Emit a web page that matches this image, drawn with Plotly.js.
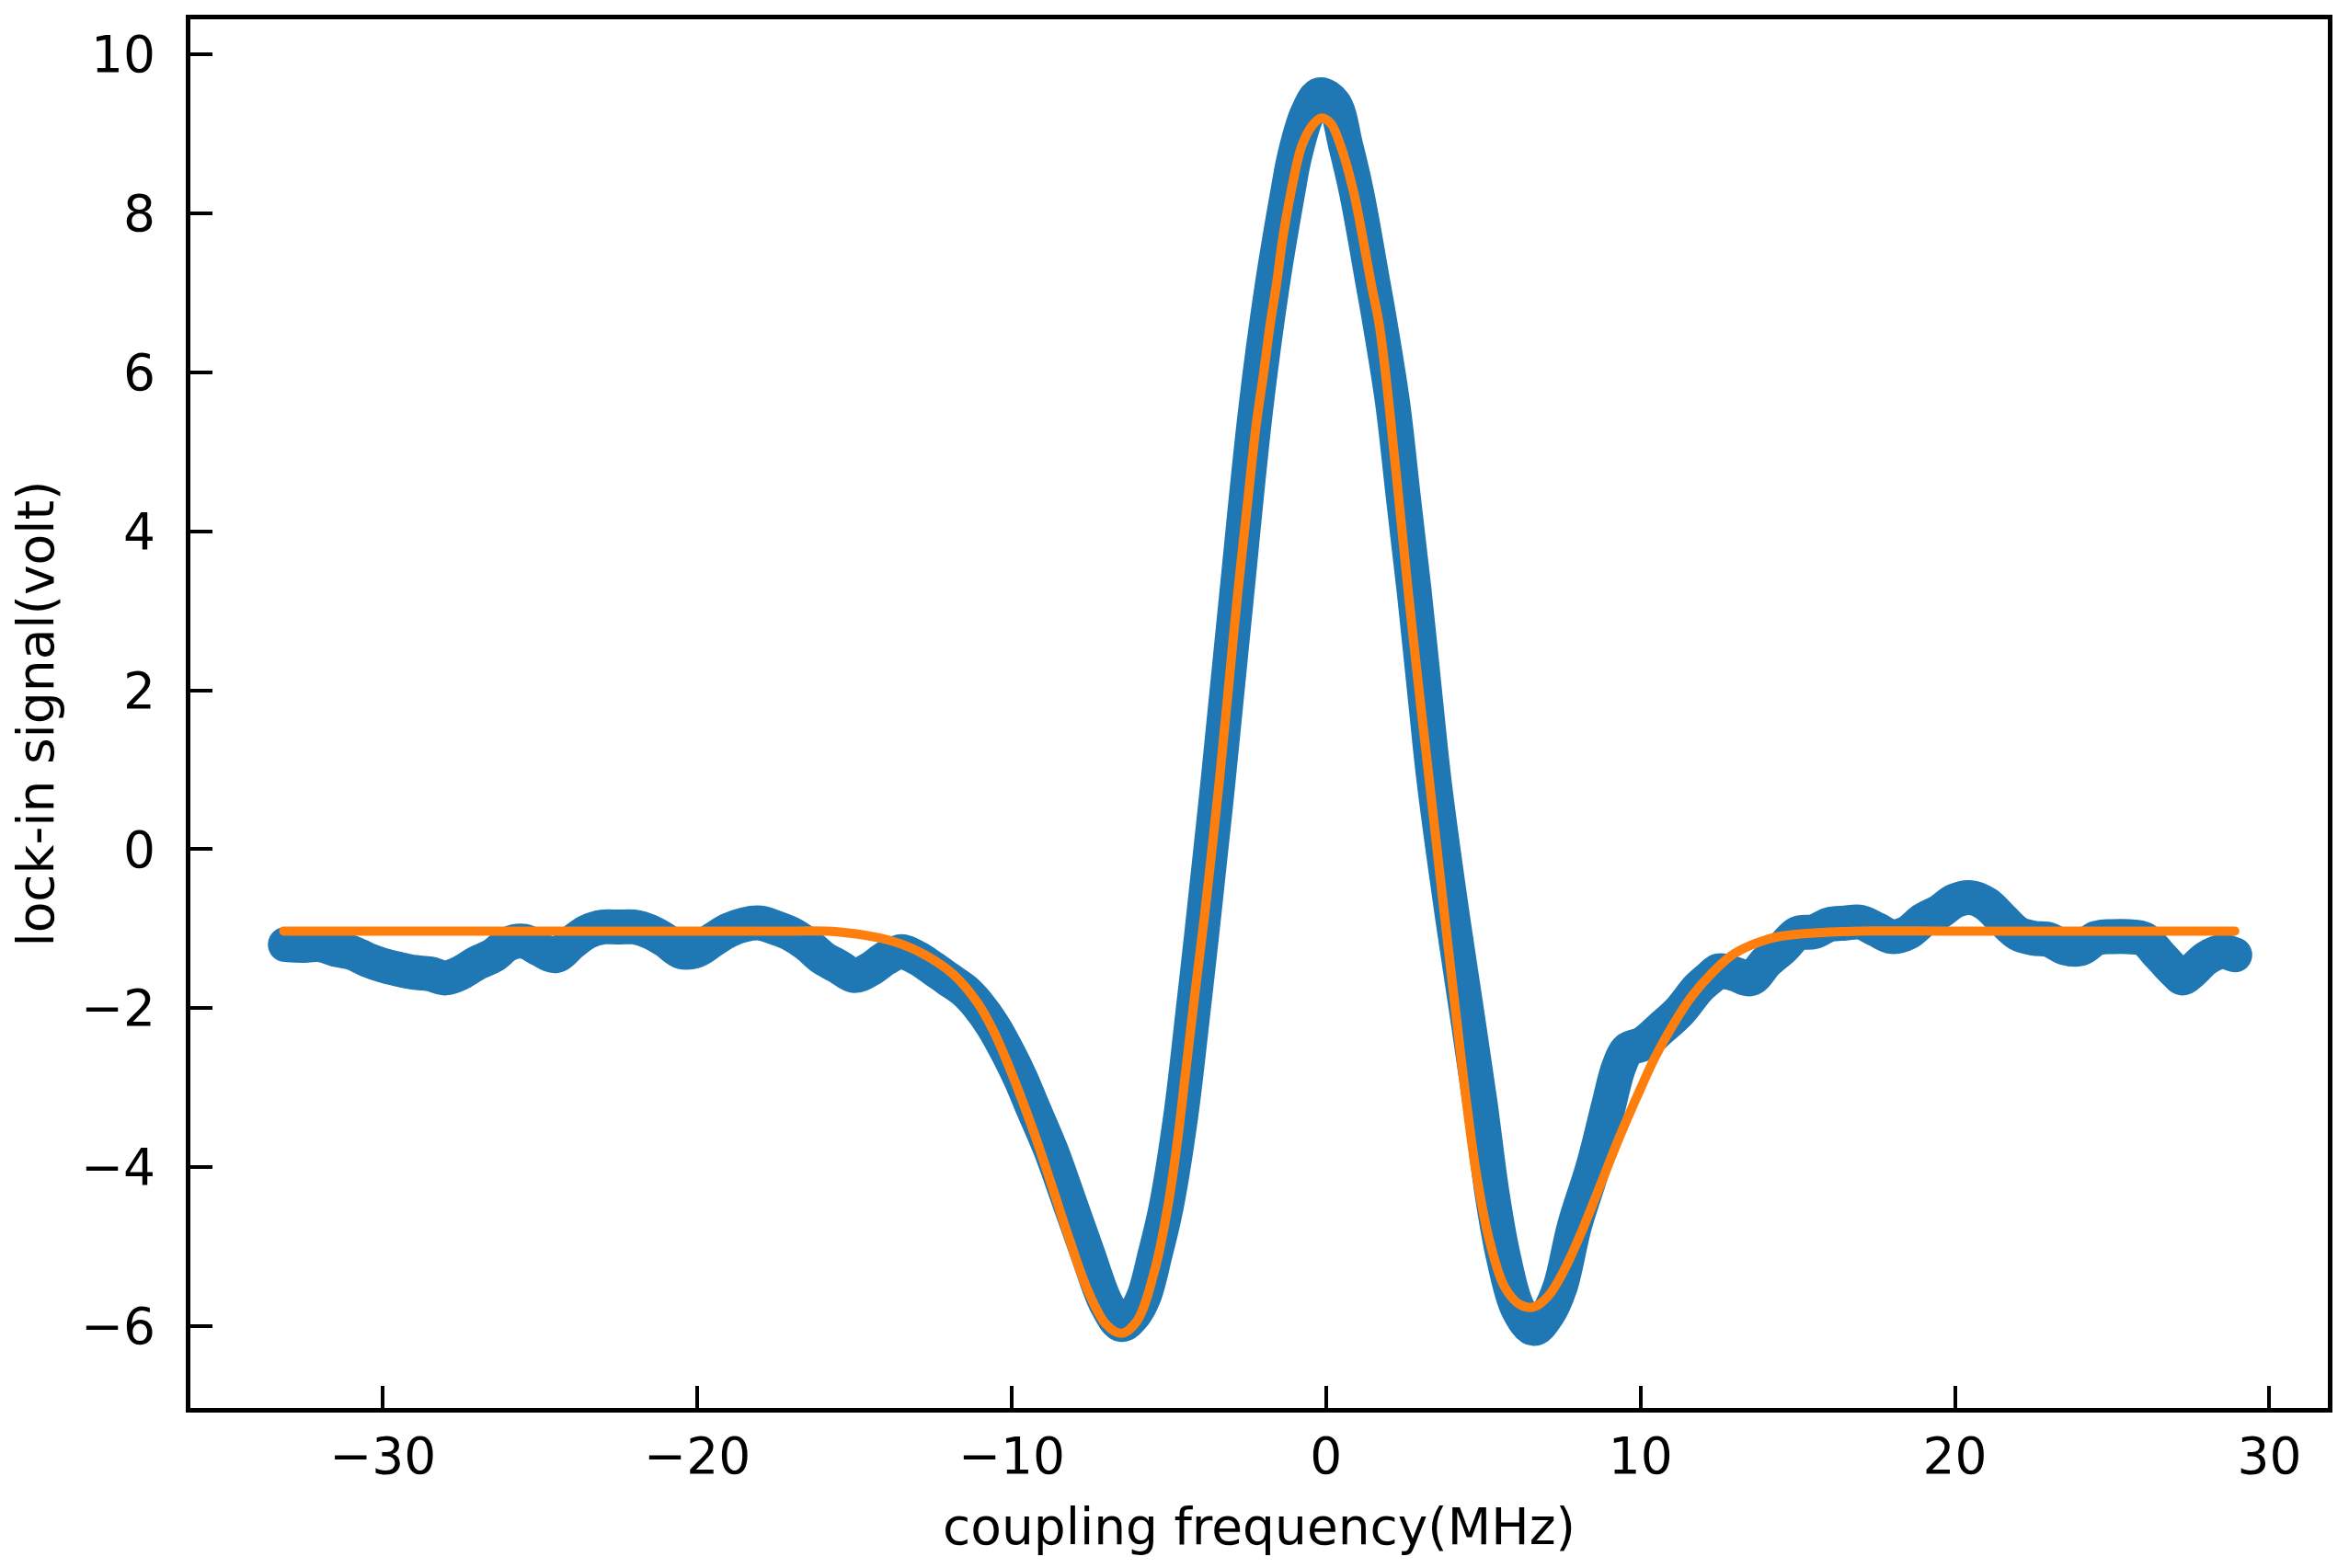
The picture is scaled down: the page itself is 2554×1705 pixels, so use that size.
<!DOCTYPE html>
<html>
<head>
<meta charset="utf-8">
<script src="https://cdn.plot.ly/plotly-3.0.1.min.js"></script>
<style>
  html, body { margin: 0; padding: 0; background: #ffffff; }
  #chart { width: 2554px; height: 1705px; }
  .js-line { stroke-linejoin: round; stroke-linecap: round; }
</style>
</head>
<body>
<div id="chart"></div>
<script>
const measuredFreq = [
  -33.1, -32.5, -32, -31.5, -31, -30.5, -30, -29.5, -29, -28.5, -28, -27.5, -27, -26.5, -26, -25.5,
  -25, -24.5, -24, -23.5, -23, -22.5, -22, -21.5, -21, -20.5, -20, -19.5, -19, -18.5, -18, -17.5,
  -17, -16.5, -16, -15.5, -15, -14.5, -14, -13.5, -13, -12.5, -12,
  -11.5, -11.09, -10.6, -10.12, -9.7, -9.34, -8.75, -8.17, -7.58, -6.99, -6.51, -6.1, -5.79, -5.44,
  -5.09, -4.62, -4.22, -3.95,
  -3.44, -2.85, -2.24, -1.71, -1.22, -1.0, -0.6, -0.2, 0.25, 0.63, 0.97, 1.5, 1.7, 2.12, 2.45, 2.8, 3.17, 3.44,
  4.03, 4.47, 4.9, 5.29, 5.64, 6.1, 6.61, 7.05, 7.44, 7.9, 8.51, 9.0, 9.3, 9.6, 10.07, 10.66, 11.24,
  11.83, 12.2, 12.5, 13, 13.5, 14, 14.5, 15, 15.5, 16, 16.5, 17, 17.5, 18, 18.5, 19, 19.5, 20, 20.5,
  21, 21.5, 22, 22.5, 23, 23.5, 24, 24.5, 25, 25.5, 26, 26.5, 27, 27.25, 27.5, 28, 28.5, 28.9
];
const measuredSignal = [
  -1.20, -1.21, -1.20, -1.26, -1.30, -1.39, -1.46, -1.51, -1.55, -1.57, -1.62, -1.55, -1.43, -1.34, -1.19, -1.16,
  -1.26, -1.34, -1.18, -1.04, -0.98, -0.98, -0.98, -1.04, -1.15, -1.29, -1.27, -1.14, -1.02, -0.95, -0.93, -0.99,
  -1.07, -1.20, -1.37, -1.48, -1.59, -1.51, -1.37, -1.29, -1.37, -1.50, -1.64,
  -1.78, -1.95, -2.22, -2.56, -2.90, -3.24, -3.79, -4.43, -5.09, -5.72, -5.98, -5.85, -5.62, -5.10,
  -4.51, -3.35, -2.00, -1.05,
  0.84, 3.18, 5.53, 7.10, 8.26, 8.72, 9.25, 9.49, 9.38, 8.84, 8.26, 7.10, 6.65, 5.60, 4.45, 3.25, 1.84, 0.84,
  -0.88, -2.04, -3.20, -4.36, -5.13, -5.78, -6.03, -5.85, -5.51, -4.74, -3.97, -3.20, -2.75, -2.52, -2.45, -2.25, -2.04,
  -1.75, -1.62, -1.53, -1.57, -1.63, -1.42, -1.25, -1.06, -1.04, -0.95, -0.93, -0.92, -1.01, -1.10, -1.05, -0.89, -0.79, -0.65, -0.61,
  -0.69, -0.88, -1.06, -1.12, -1.14, -1.24, -1.25, -1.12, -1.10, -1.10, -1.13, -1.33, -1.54, -1.62, -1.55, -1.37, -1.29, -1.33
];

// Fitted curve (orange)
const fitFreq = [
  -33.15, -25, -20, -17, -15.54, -13.86, -12.85, -11.84, -11.09, -10.6, -10.12, -9.34, -8.75, -8.17,
  -7.58, -6.99, -6.51, -6.02, -5.44, -5.04, -4.75, -4.46, -4.17, -3.87, -3.39, -3.1, -2.82, -2.5,
  -2.22, -2.0, -1.78, -1.58, -1.38, -1.12, -0.78, -0.45, -0.15, 0.15, 0.47, 0.88, 1.17, 1.44, 1.69,
  2.0, 2.3, 2.61, 3.0, 3.29, 3.78, 4.12, 4.47, 4.81, 5.2, 5.68, 6.17, 6.61, 7.05, 7.54, 8.12, 8.71,
  9.29, 9.88, 10.46, 11.05, 11.63, 12.22, 13.0, 14.17, 15.29, 17, 20, 28.9
];
const fitSignal = [
  -1.03, -1.03, -1.03, -1.03, -1.04, -1.15, -1.31, -1.58, -1.93, -2.27, -2.70, -3.51, -4.20, -4.90,
  -5.55, -5.98, -6.09, -5.94, -5.28, -4.51, -3.74, -2.78, -1.81, -0.85, 0.88, 2.05, 3.18, 4.35,
  5.35, 5.95, 6.60, 7.10, 7.68, 8.26, 8.84, 9.10, 9.20, 9.13, 8.84, 8.26, 7.68, 7.10, 6.60,
  5.60, 4.45, 3.25, 1.84, 0.84, -0.88, -2.04, -3.20, -4.16, -4.93, -5.51, -5.73, -5.76, -5.63, -5.32, -4.82, -4.24,
  -3.66, -3.12, -2.62, -2.20, -1.85, -1.58, -1.31, -1.12, -1.06, -1.03, -1.03, -1.03
];

// Tick values and labels
const xTickVals = [-30, -20, -10, 0, 10, 20, 30];
const xTickText = ['\u221230', '\u221220', '\u221210', '0', '10', '20', '30'];
const yTickVals = [-6, -4, -2, 0, 2, 4, 6, 8, 10];
const yTickText = ['\u22126', '\u22124', '\u22122', '0', '2', '4', '6', '8', '10'];

const xTitle = 'coupling frequency(MHz)';
const yTitle = 'lock-in signal(volt)';

const FONT = 'DejaVu Sans, sans-serif';

const traces = [
  {
    type: 'scatter',
    mode: 'lines',
    x: measuredFreq,
    y: measuredSignal,
    line: { color: '#1f77b4', width: 38, shape: 'spline', smoothing: 1 },
    hoverinfo: 'skip',
    showlegend: false
  },
  {
    type: 'scatter',
    mode: 'lines',
    x: fitFreq,
    y: fitSignal,
    line: { color: '#ff7f0e', width: 10, shape: 'spline', smoothing: 1 },
    hoverinfo: 'skip',
    showlegend: false
  }
];

const axisCommon = {
  showgrid: false,
  zeroline: false,
  showline: true,
  linecolor: '#000000',
  linewidth: 5,
  mirror: true,
  ticks: 'inside',
  ticklen: 24,
  tickwidth: 4,
  tickcolor: '#000000',
  tickfont: { family: FONT, size: 55, color: '#000000' },
  automargin: false
};

const layout = {
  width: 2554,
  height: 1705,
  paper_bgcolor: '#ffffff',
  plot_bgcolor: '#ffffff',
  margin: { l: 207, r: 23, t: 21, b: 174, pad: 0 },
  showlegend: false,
  font: { family: FONT, size: 55, color: '#000000' },
  xaxis: Object.assign({}, axisCommon, {
    range: [-36.12, 31.86],
    tickmode: 'array',
    tickvals: xTickVals,
    ticktext: xTickText,
    ticklabelstandoff: 0,
    title: { text: xTitle, font: { family: FONT, size: 55, color: '#000000' }, standoff: 28 }
  }),
  yaxis: Object.assign({}, axisCommon, {
    range: [-7.03, 10.44],
    tickmode: 'array',
    tickvals: yTickVals,
    ticktext: yTickText,
    ticklabelstandoff: 22,
    title: { text: yTitle, font: { family: FONT, size: 55, color: '#000000' }, standoff: 13 }
  })
};

Plotly.newPlot('chart', traces, layout, { staticPlot: true, displayModeBar: false });
</script>
</body>
</html>
